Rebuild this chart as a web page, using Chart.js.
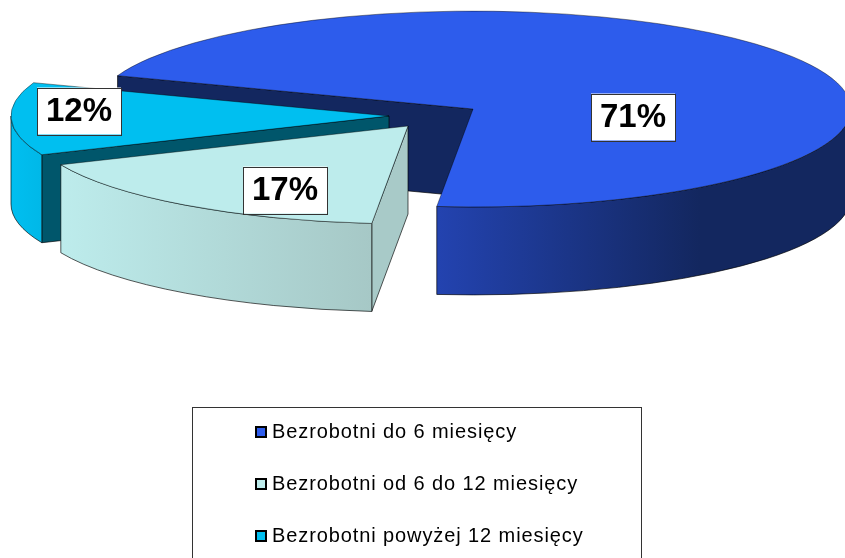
<!DOCTYPE html>
<html>
<head>
<meta charset="utf-8">
<script src="https://cdn.jsdelivr.net/npm/chart.js@4.4.1/dist/chart.umd.min.js"></script>
<style>
  html, body { margin: 0; padding: 0; background: #fff; overflow: hidden; }
  #wrap { width: 845px; height: 558px; position: relative; }
</style>
</head>
<body>
<div id="wrap"><canvas id="pie"></canvas></div>
<script>
const categories = ['Bezrobotni do 6 miesięcy', 'Bezrobotni od 6 do 12 miesięcy', 'Bezrobotni powyżej 12 miesięcy'];
const shares = [71, 17, 12];

const topColors = ['#2d5cec', '#bdecec', '#00bff0'];
const wallColors = [['#2343b0', '#13275f'], ['#bdecec', '#a6c8c6'], ['#00bff0', '#00b8e8']];
const faceColors = ['#13275f', '#a8cac8', '#00566b'];
const wallSpans = [[437, 700], [60, 372], [11, 41]];

// 3d look: squash factor, height of the pie, how far each slice is pulled out
const squash = 0.259;
const depth = 88;
const explode = [[0, 0], [-65, 17], [-84, 7]];
const labelOffsets = [[160, 8], [-123, 64], [-310, -5]];
const drawOrder = [0, 2, 1];

function swatch(color) {
  const c = document.createElement('canvas');
  c.width = 12;
  c.height = 12;
  const g = c.getContext('2d');
  g.fillStyle = '#000';
  g.fillRect(0, 0, 12, 12);
  g.fillStyle = color;
  g.fillRect(2, 2, 8, 8);
  return c;
}

function drawSlice(ctx, arc, i) {
  const cx = arc.x + explode[i][0];
  const cy = arc.y + explode[i][1];
  const rx = arc.outerRadius;
  const ry = rx * squash;
  const outline = 'rgba(0,0,0,0.65)';

  // flat cut face on the slice's start edge
  const ex = cx + Math.cos(arc.startAngle) * rx;
  const ey = cy + Math.sin(arc.startAngle) * ry;
  ctx.beginPath();
  ctx.moveTo(cx, cy);
  ctx.lineTo(ex, ey);
  ctx.lineTo(ex, ey + depth);
  ctx.lineTo(cx, cy + depth);
  ctx.closePath();
  ctx.fillStyle = faceColors[i];
  ctx.fill();
  ctx.lineWidth = 1;
  ctx.strokeStyle = outline;
  ctx.stroke();

  // outer wall, only the part that faces the viewer (angles 0..PI)
  let from = arc.startAngle;
  let to = arc.endAngle;
  if (from >= Math.PI) {
    from -= Math.PI * 2;
    to -= Math.PI * 2;
  }
  from = Math.max(from, 0);
  to = Math.min(to, Math.PI);
  if (to > from) {
    const grad = ctx.createLinearGradient(wallSpans[i][0], 0, wallSpans[i][1], 0);
    grad.addColorStop(0, wallColors[i][0]);
    grad.addColorStop(1, wallColors[i][1]);
    ctx.beginPath();
    ctx.ellipse(cx, cy, rx, ry, 0, from, to);
    ctx.ellipse(cx, cy + depth, rx, ry, 0, to, from, true);
    ctx.closePath();
    ctx.fillStyle = grad;
    ctx.fill();
    ctx.strokeStyle = outline;
    ctx.stroke();
  }

  // top face is the chart's own arc, squashed
  ctx.save();
  ctx.translate(cx, cy);
  ctx.scale(1, squash);
  ctx.translate(-arc.x, -arc.y);
  arc.draw(ctx);
  ctx.restore();
}

const pie3d = {
  id: 'pie3d',
  beforeDraw(chart) {
    const ctx = chart.ctx;
    ctx.save();
    ctx.strokeStyle = '#333';
    ctx.lineWidth = 1;
    ctx.strokeRect(192.5, 407.5, 449, 170);
    ctx.restore();
    // the legend text in the picture runs a little wide
    ctx.letterSpacing = '0.9px';
  },
  afterLayout(chart) {
    const legend = chart.legend;
    legend.left = 228;
    legend.right = 640;
    legend.top = 390;
    legend.bottom = 800;
  },
  beforeDatasetsDraw(chart) {
    const ctx = chart.ctx;
    ctx.letterSpacing = '0px';
    const arcs = chart.getDatasetMeta(0).data;
    drawOrder.forEach(i => drawSlice(ctx, arcs[i], i));

    ctx.save();
    ctx.font = 'bold 33px "Liberation Sans", Arial, sans-serif';
    ctx.textAlign = 'center';
    ctx.textBaseline = 'middle';
    arcs.forEach((arc, i) => {
      const x = arc.x + explode[i][0] + labelOffsets[i][0];
      const y = arc.y + explode[i][1] + labelOffsets[i][1];
      ctx.fillStyle = '#fff';
      ctx.fillRect(x - 42, y - 23.5, 84, 47);
      ctx.strokeStyle = '#333';
      ctx.lineWidth = 1;
      ctx.strokeRect(Math.round(x - 42) + 0.5, Math.round(y - 23.5) + 0.5, 84, 47);
      ctx.fillStyle = '#000';
      ctx.fillText(shares[i] + '%', x, y + 1);
    });
    ctx.restore();
    return false;
  }
};

new Chart(document.getElementById('pie'), {
  type: 'pie',
  data: {
    labels: categories,
    datasets: [{
      data: shares,
      backgroundColor: topColors,
      borderColor: 'rgba(0,0,0,0.65)',
      borderWidth: 1
    }]
  },
  options: {
    responsive: true,
    maintainAspectRatio: false,
    animation: false,
    rotation: 289.9,
    radius: 378,
    layout: { padding: { left: 101, bottom: 340 } },
    plugins: {
      tooltip: { enabled: false },
      legend: {
        position: 'chartArea',
        align: 'start',
        labels: {
          usePointStyle: true,
          pointStyleWidth: 2,
          padding: 32,
          color: '#000',
          font: { family: '"Liberation Sans", Arial, sans-serif', size: 20 },
          generateLabels: chart => categories.map((text, i) => ({
            text,
            pointStyle: swatch(topColors[i]),
            fontColor: '#000',
            index: i
          }))
        }
      }
    }
  },
  plugins: [pie3d]
});
</script>
</body>
</html>
